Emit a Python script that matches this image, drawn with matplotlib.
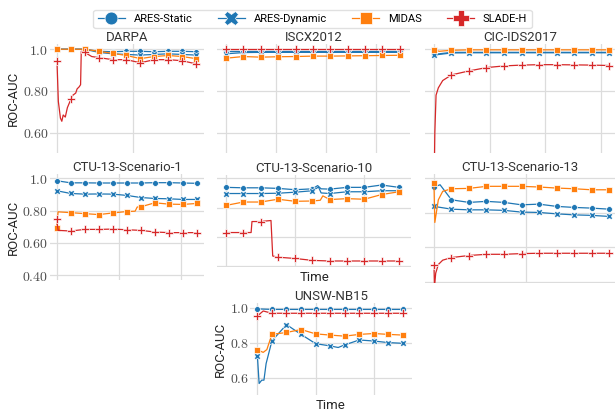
import numpy as np
import matplotlib.pyplot as plt

plt.rcParams['font.family'] = ['Roboto', 'DejaVu Sans']
plt.rcParams['mathtext.fontset'] = 'cm'

# ---- data (t = position along the time axis, markers at whole t) ----
T11 = [0, 1, 2, 3, 4, 5, 6, 7, 8, 9, 10]

darpa_static = [1.0, 1.0, 1.0, 0.99, 0.988, 0.99, 0.99, 0.988, 0.99, 0.99, 0.988]
darpa_dynamic = [1.0, 1.0, 1.0, 0.985, 0.978, 0.975, 0.972, 0.975, 0.978, 0.975, 0.972]
darpa_midas = [1.0, 1.0, 1.0, 0.99, 0.98, 0.97, 0.955, 0.965, 0.97, 0.965, 0.955]
darpa_slade_t = [0, 0.1, 0.25, 0.35, 0.45, 0.6, 0.75, 1, 1.15, 1.35, 1.45, 1.6, 1.7, 1.75,
                 2, 2.5, 3, 4, 5, 6, 7, 8, 9, 10]
darpa_slade = [0.945, 0.75, 0.67, 0.655, 0.685, 0.675, 0.72, 0.76, 0.78, 0.79, 0.81, 0.82, 0.83, 0.99,
               0.985, 0.965, 0.96, 0.95, 0.95, 0.935, 0.95, 0.95, 0.945, 0.93]

iscx_static = [0.993, 0.993, 0.993, 0.993, 0.993, 0.993, 0.993, 0.993, 0.993, 0.993, 0.993]
iscx_dynamic = [0.978, 0.984, 0.985, 0.985, 0.985, 0.985, 0.985, 0.985, 0.985, 0.985, 0.985]
iscx_midas = [0.957, 0.965, 0.962, 0.964, 0.965, 0.967, 0.967, 0.968, 0.969, 0.97, 0.971]
iscx_slade = [0.999, 0.999, 0.999, 0.999, 0.999, 0.999, 0.999, 0.999, 0.999, 0.999, 0.999]

cic_static = [0.975, 0.985, 0.985, 0.985, 0.985, 0.985, 0.985, 0.985, 0.985, 0.985, 0.985]
cic_dynamic = [0.972, 0.982, 0.983, 0.983, 0.983, 0.983, 0.983, 0.983, 0.983, 0.983, 0.983]
cic_midas_t = [0, 0.3, 1, 2, 3, 4, 5, 6, 7, 8, 9, 10]
cic_midas = [0.998, 0.99, 0.995, 0.997, 0.997, 0.997, 0.997, 0.997, 0.997, 0.997, 0.997, 0.997]
cic_slade_t = [0, 0.05, 0.12, 0.25, 0.5, 1, 2, 3, 4, 5, 6, 7, 8, 9, 10]
cic_slade = [0.3, 0.6, 0.78, 0.815, 0.85, 0.877, 0.896, 0.912, 0.92, 0.924, 0.926, 0.926,
             0.925, 0.924, 0.922]

s1_static = [0.985, 0.972, 0.972, 0.971, 0.971, 0.971, 0.971, 0.973, 0.973, 0.971, 0.969]
s1_dynamic = [0.923, 0.906, 0.902, 0.903, 0.902, 0.894, 0.881, 0.875, 0.873, 0.869, 0.869]
s1_midas_t = [0, 0.1, 1, 2, 3, 4, 5, 5.6, 5.75, 6, 7, 8, 9, 10]
s1_midas = [0.692, 0.792, 0.787, 0.781, 0.775, 0.785, 0.794, 0.796, 0.822, 0.823, 0.848,
            0.84, 0.838, 0.844]
s1_slade_t = [0, 0.1, 1, 2, 3, 4, 5, 6, 7, 8, 9, 10]
s1_slade = [0.746, 0.677, 0.673, 0.683, 0.683, 0.685, 0.681, 0.677, 0.667, 0.663, 0.663, 0.663]

s10_static_t = [0, 1, 2, 3, 4, 5, 5.3, 5.5, 6, 7, 8, 9, 10]
s10_static = [0.938, 0.935, 0.935, 0.931, 0.922, 0.928, 0.95, 0.928, 0.926, 0.938, 0.938, 0.954, 0.938]
s10_dynamic_t = [0, 1, 2, 3, 4, 5, 5.35, 5.5, 6, 7, 8, 9, 10]
s10_dynamic = [0.896, 0.896, 0.896, 0.898, 0.905, 0.915, 0.94, 0.9, 0.896, 0.908, 0.908, 0.915, 0.915]
s10_midas_t = [0, 1, 2, 3, 4, 5, 5.45, 5.6, 6, 7, 8, 9, 10]
s10_midas = [0.815, 0.838, 0.838, 0.857, 0.843, 0.845, 0.85, 0.88, 0.855, 0.861, 0.857, 0.889, 0.908]
s10_slade_t = [0, 1, 1.45, 1.5, 2, 2.6, 2.7, 3, 4, 5, 6, 7, 8, 9, 10]
s10_slade = [0.63, 0.63, 0.63, 0.705, 0.705, 0.712, 0.47, 0.462, 0.453, 0.44, 0.436, 0.436,
             0.436, 0.436, 0.436]

s13_static_t = [0, 0.35, 1, 2, 3, 4, 5, 6, 7, 8, 9, 10]
s13_static = [0.948, 0.961, 0.874, 0.859, 0.865, 0.859, 0.845, 0.849, 0.836, 0.83, 0.826, 0.82]
s13_dynamic = [0.836, 0.82, 0.816, 0.816, 0.813, 0.803, 0.801, 0.793, 0.787, 0.784, 0.778]
s13_midas_t = [0, 0.05, 0.25, 0.5, 1, 2, 3, 4, 5, 6, 7, 8, 9, 10]
s13_midas = [0.971, 0.743, 0.874, 0.923, 0.938, 0.94, 0.952, 0.952, 0.952, 0.948, 0.942,
             0.938, 0.932, 0.932]
s13_slade_t = [0, 0.03, 0.1, 0.25, 0.5, 1, 2, 3, 4, 5, 6, 7, 8, 9, 10]
s13_slade = [0.498, 0.37, 0.45, 0.5, 0.525, 0.54, 0.552, 0.559, 0.559, 0.563, 0.565, 0.565,
             0.565, 0.565, 0.565]

unsw_static = [0.993, 0.99, 0.99, 0.99, 0.99, 0.99, 0.99, 0.99, 0.99, 0.99, 0.99]
unsw_dynamic_t = [0, 0.12, 0.3, 0.45, 0.6, 1, 2, 3, 4, 5, 5.55, 6, 7, 8, 9, 10]
unsw_dynamic = [0.725, 0.566, 0.585, 0.585, 0.68, 0.81, 0.903, 0.847, 0.794, 0.781, 0.772,
                0.787, 0.815, 0.809, 0.8, 0.796]
unsw_midas_t = [0, 0.4, 0.65, 1, 2, 3, 4, 5, 6, 7, 8, 9, 10]
unsw_midas = [0.759, 0.744, 0.76, 0.847, 0.858, 0.875, 0.85, 0.843, 0.837, 0.847, 0.852, 0.847, 0.843]
unsw_slade_t = [0, 0.4, 1, 2, 3, 4, 5, 6, 7, 8, 9, 10]
unsw_slade = [0.952, 0.981, 0.968, 0.968, 0.968, 0.968, 0.968, 0.968, 0.968, 0.968, 0.968, 0.968]

methods = ['ARES-Static', 'ARES-Dynamic', 'MIDAS', 'SLADE-H']
colors = ['#1f77b4', '#1f77b4', '#ff7f0e', '#d62728']
markers = ['o', 'X', 's', 'P']
sizes = [4.2, 4.6, 4.0, 5.2]

yticks_a = [1.0, 0.8, 0.6]
ylabels_a = [r'$1.0$', r'$0.80$', r'$0.60$']
yticks_b = [1.0, 0.8, 0.6, 0.4]
ylabels_b = [r'$1.0$', r'$0.80$', r'$0.60$', r'$0.40$']
ylabels_c = [r'$1.0$', r'$0.8$', r'$0.6$']

panels = [
    ('DARPA', [(T11, darpa_static), (T11, darpa_dynamic), (T11, darpa_midas), (darpa_slade_t, darpa_slade)]),
    ('ISCX2012', [(T11, iscx_static), (T11, iscx_dynamic), (T11, iscx_midas), (T11, iscx_slade)]),
    ('CIC-IDS2017', [(T11, cic_static), (T11, cic_dynamic), (cic_midas_t, cic_midas), (cic_slade_t, cic_slade)]),
    ('CTU-13-Scenario-1', [(T11, s1_static), (T11, s1_dynamic), (s1_midas_t, s1_midas), (s1_slade_t, s1_slade)]),
    ('CTU-13-Scenario-10', [(s10_static_t, s10_static), (s10_dynamic_t, s10_dynamic), (s10_midas_t, s10_midas), (s10_slade_t, s10_slade)]),
    ('CTU-13-Scenario-13', [(s13_static_t, s13_static), (T11, s13_dynamic), (s13_midas_t, s13_midas), (s13_slade_t, s13_slade)]),
    ('UNSW-NB15', [(T11, unsw_static), (unsw_dynamic_t, unsw_dynamic), (unsw_midas_t, unsw_midas), (unsw_slade_t, unsw_slade)]),
]

# layout in pixels: x0, x1, y_top, y_bottom, xlim right, ylim, xtick step, yticks, labels, ylabel, xlabel
layout = [
    (50, 204, 44, 153, 10.58, (0.503, 1.025), 5.5, yticks_a, ylabels_a, True, False),
    (217.3, 410.2, 44, 153, 10.6, (0.503, 1.025), 2.87, yticks_a, None, False, False),
    (425.2, 615, 44, 153, 10.34, (0.503, 1.025), 3.18, yticks_a, None, False, False),
    (49.7, 204, 174.3, 280, 10.52, (0.369, 1.025), 4.45, yticks_b, ylabels_b, True, False),
    (217.4, 411, 174.6, 267, 10.7, (0.395, 1.025), 4.0, yticks_b, None, False, True),
    (425.2, 615, 173.7, 283, 10.34, (0.393, 1.025), 5.26, yticks_b, None, False, False),
    (250.1, 411.7, 303.3, 395, 10.6, (0.5, 1.025), 4.0, yticks_a, ylabels_c, True, True),
]

W, H = 615, 413
fig = plt.figure(figsize=(W / 100, H / 100), dpi=100)

for (title, series), (x0, x1, yt, yb, xr, ylim, step, yt_pos, yt_lab, has_yl, has_xl) in zip(panels, layout):
    ax = fig.add_axes([x0 / W, 1 - yb / H, (x1 - x0) / W, (yb - yt) / H])
    for (t, v), name, c, m, ms in zip(series, methods, colors, markers, sizes):
        every = [i for i, x in enumerate(t) if float(x).is_integer()]
        ax.plot(t, v, color=c, lw=0.9, marker=m, ms=ms, markevery=every,
                mec='white', mew=0.5, label=name)
    ax.set_xlim(-0.5, xr)
    ax.set_ylim(*ylim)
    ax.set_xticks(np.arange(0, xr, step))
    ax.set_xticklabels([])
    ax.set_yticks(yt_pos)
    if yt_lab:
        ax.set_yticklabels(yt_lab)
    else:
        ax.set_yticklabels([])
    for s in ax.spines.values():
        s.set_visible(False)
    ax.grid(True, color='#dcdcdc', lw=0.9)
    ax.set_axisbelow(True)
    ax.tick_params(length=0, labelsize=10, labelcolor='.3', pad=1)
    ax.set_title(title, fontsize=9.5, color='.2', pad=1)
    if has_yl:
        ax.set_ylabel('ROC-AUC', fontsize=9.5, color='.15', labelpad=2)
    if has_xl:
        ax.set_xlabel('Time', fontsize=9.5, color='.15', labelpad=2)
    if title == 'DARPA':
        handles, labels = ax.get_legend_handles_labels()

fig.legend(handles, labels, loc='upper center', bbox_to_anchor=(312.5 / W, 1 - 4 / H),
           ncol=4, fontsize=8, markerscale=2.2, frameon=True, fancybox=True,
           edgecolor='.85', handlelength=2.4, columnspacing=2.3, handletextpad=0.8,
           borderpad=0.4)

fig.savefig('out.png', dpi=100)
